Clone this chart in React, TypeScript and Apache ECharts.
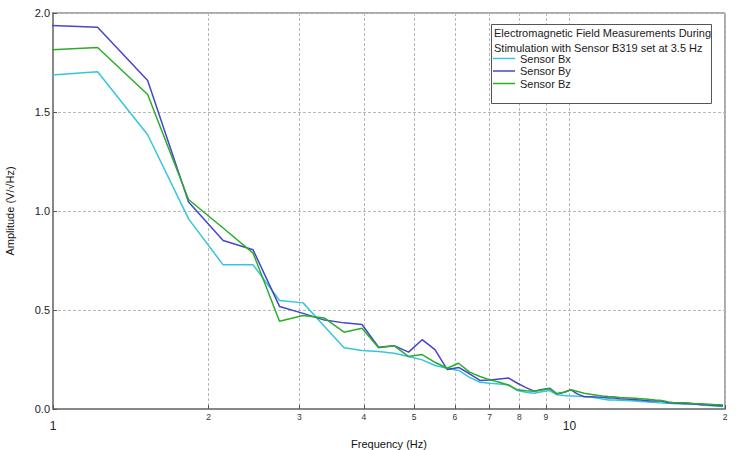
import React, { useEffect, useRef } from 'react';
import * as echarts from 'echarts';

const frequencies = [
  0.915, 1.22, 1.525, 1.83, 2.135, 2.44, 2.745, 3.05, 3.355, 3.66, 3.965, 4.27, 4.575, 4.88, 5.185, 5.49,
  5.795, 6.1, 6.405, 6.71, 7.015, 7.32, 7.625, 7.93, 8.235, 8.54, 8.845, 9.15, 9.455, 9.76, 10.065,
  10.37, 10.675, 10.98, 11.285, 11.59, 11.895, 12.2, 12.505, 12.81, 13.115, 13.42, 13.725, 14.03, 14.335,
  14.64, 14.945, 15.25, 15.555, 15.86, 16.165, 16.47, 16.775, 17.08, 17.385, 17.69, 17.995, 18.3, 18.605,
  18.91, 19.215, 19.52, 19.825,
];

const sensorBx = [
  1.681, 1.703, 1.385, 0.96, 0.728, 0.728, 0.548, 0.536, 0.417, 0.309, 0.295, 0.29, 0.282, 0.265, 0.248, 0.22,
  0.206, 0.195, 0.16, 0.135, 0.13, 0.126, 0.122, 0.093, 0.085, 0.08, 0.087, 0.093, 0.072, 0.068, 0.066,
  0.064, 0.063, 0.06, 0.055, 0.05, 0.046, 0.045, 0.044, 0.043, 0.042, 0.04, 0.038, 0.036, 0.034,
  0.033, 0.031, 0.03, 0.029, 0.028, 0.027, 0.027, 0.026, 0.025, 0.024, 0.023, 0.021, 0.02, 0.018,
  0.016, 0.015, 0.014, 0.013,
];

const sensorBy = [
  1.941, 1.928, 1.659, 1.045, 0.851, 0.804, 0.518, 0.483, 0.449, 0.435, 0.427, 0.312, 0.32, 0.287, 0.35, 0.3,
  0.2, 0.21, 0.178, 0.144, 0.147, 0.152, 0.156, 0.13, 0.108, 0.09, 0.098, 0.105, 0.077, 0.085, 0.097,
  0.075, 0.062, 0.062, 0.06, 0.059, 0.056, 0.055, 0.052, 0.05, 0.049, 0.047, 0.045, 0.043, 0.041,
  0.04, 0.042, 0.036, 0.032, 0.03, 0.029, 0.028, 0.027, 0.026, 0.025, 0.024, 0.022, 0.021, 0.02,
  0.019, 0.018, 0.017, 0.016,
];

const sensorBz = [
  1.809, 1.826, 1.588, 1.058, 0.914, 0.787, 0.443, 0.472, 0.459, 0.388, 0.408, 0.309, 0.32, 0.265, 0.275, 0.236,
  0.206, 0.231, 0.186, 0.164, 0.147, 0.135, 0.12, 0.097, 0.092, 0.09, 0.096, 0.102, 0.077, 0.085, 0.097,
  0.088, 0.08, 0.074, 0.07, 0.066, 0.063, 0.062, 0.058, 0.057, 0.056, 0.054, 0.052, 0.05, 0.048,
  0.045, 0.044, 0.04, 0.036, 0.033, 0.032, 0.031, 0.031, 0.03, 0.028, 0.027, 0.026, 0.025, 0.024,
  0.023, 0.022, 0.021, 0.02,
];

const seriesNames = ['Sensor Bx', 'Sensor By', 'Sensor Bz'];
const seriesColors = ['#35c5de', '#4646cc', '#2aae2a'];
const xTickValues = [1, 2, 3, 4, 5, 6, 7, 8, 9, 10, 20];
const xTickLabels = ['1', '2', '3', '4', '5', '6', '7', '8', '9', '10', '2'];
const xMajorTicks = [1, 10];
const legendTitle = ['Electromagnetic Field Measurements During', 'Stimulation with Sensor B319 set at 3.5 Hz'];

const FONT = '"Liberation Sans", Arial, Helvetica, sans-serif';

export default function App() {
  const ref = useRef<HTMLDivElement>(null);

  useEffect(() => {
    if (!ref.current) return;
    const chart = echarts.init(ref.current, undefined, { renderer: 'svg' });
    const allValues = [sensorBx, sensorBy, sensorBz];

    const option: any = {
      animation: false,
      backgroundColor: '#ffffff',
      textStyle: { fontFamily: FONT },
      grid: {
        left: 53,
        right: 25,
        top: 13,
        bottom: 41,
        show: true,
        borderColor: '#555',
        borderWidth: 1,
        outerBoundsMode: 'none',
      },
      title: {
        text: legendTitle.join('\n'),
        left: 494,
        top: 26,
        padding: 0,
        z: 10,
        textStyle: {
          fontFamily: FONT,
          fontSize: 11,
          fontWeight: 'normal',
          color: '#1a1a1a',
          lineHeight: 14.5,
        },
      },
      legend: {
        data: seriesNames,
        orient: 'vertical',
        left: 493,
        top: 53,
        padding: 0,
        itemGap: 1.5,
        itemWidth: 22,
        itemHeight: 1.5,
        icon: 'rect',
        selectedMode: false,
        z: 10,
        textStyle: { fontFamily: FONT, fontSize: 11, color: '#1a1a1a', lineHeight: 11 },
      },
      graphic: [
        {
          type: 'rect',
          z: 5,
          shape: { x: 491.5, y: 24.5, width: 220, height: 79 },
          style: { fill: '#ffffff', stroke: '#555', lineWidth: 1 },
        },
      ],
      xAxis: {
        type: 'log',
        logBase: 10,
        min: 1,
        max: 20,
        name: 'Frequency (Hz)',
        nameLocation: 'middle',
        nameGap: 29,
        nameTextStyle: { fontFamily: FONT, fontSize: 11, color: '#111' },
        axisLine: { show: true, lineStyle: { color: '#888', width: 2 } },
        axisTick: { show: true, inside: true, length: 4, customValues: xTickValues, lineStyle: { color: '#555' } },
        axisLabel: {
          customValues: xTickValues,
          margin: 3,
          formatter: (v: number) => {
            let idx = 0;
            let best = Infinity;
            xTickValues.forEach((t, i) => {
              const d = Math.abs(t - v);
              if (d < best) { best = d; idx = i; }
            });
            const style = xMajorTicks.includes(xTickValues[idx]) ? 'big' : 'small';
            return '{' + style + '|' + xTickLabels[idx] + '}';
          },
          rich: {
            big: { fontFamily: FONT, fontSize: 12, color: '#222', padding: [8, 0, 0, 0] },
            small: { fontFamily: FONT, fontSize: 8.5, color: '#333' },
          },
        },
        splitLine: { show: true, lineStyle: { color: '#b8b8b8', type: [3, 2], width: 1 } },
      },
      yAxis: {
        type: 'value',
        min: 0,
        max: 2,
        interval: 0.5,
        name: 'Amplitude (V/√Hz)',
        nameLocation: 'middle',
        nameGap: 38,
        nameTextStyle: { fontFamily: FONT, fontSize: 11, color: '#111' },
        axisLine: { show: true, lineStyle: { color: '#888', width: 2 } },
        axisTick: { show: true, inside: true, length: 4, lineStyle: { color: '#555' } },
        axisLabel: {
          margin: 3,
          fontFamily: FONT,
          fontSize: 11,
          color: '#222',
          formatter: (v: number) => v.toFixed(1),
        },
        splitLine: { show: true, lineStyle: { color: '#b8b8b8', type: [3, 2], width: 1 } },
      },
      series: seriesNames.map((name, i) => ({
        name,
        type: 'line',
        data: frequencies.map((f, j) => [f, allValues[i][j]]),
        showSymbol: false,
        symbol: 'none',
        clip: true,
        lineStyle: { width: 1.5, color: seriesColors[i] },
        itemStyle: { color: seriesColors[i] },
      })),
    };

    chart.setOption(option);
    return () => chart.dispose();
  }, []);

  return (
    <div
      ref={ref}
      style={{ position: 'fixed', left: 0, top: 0, width: 750, height: 450, background: '#fff' }}
    />
  );
}
